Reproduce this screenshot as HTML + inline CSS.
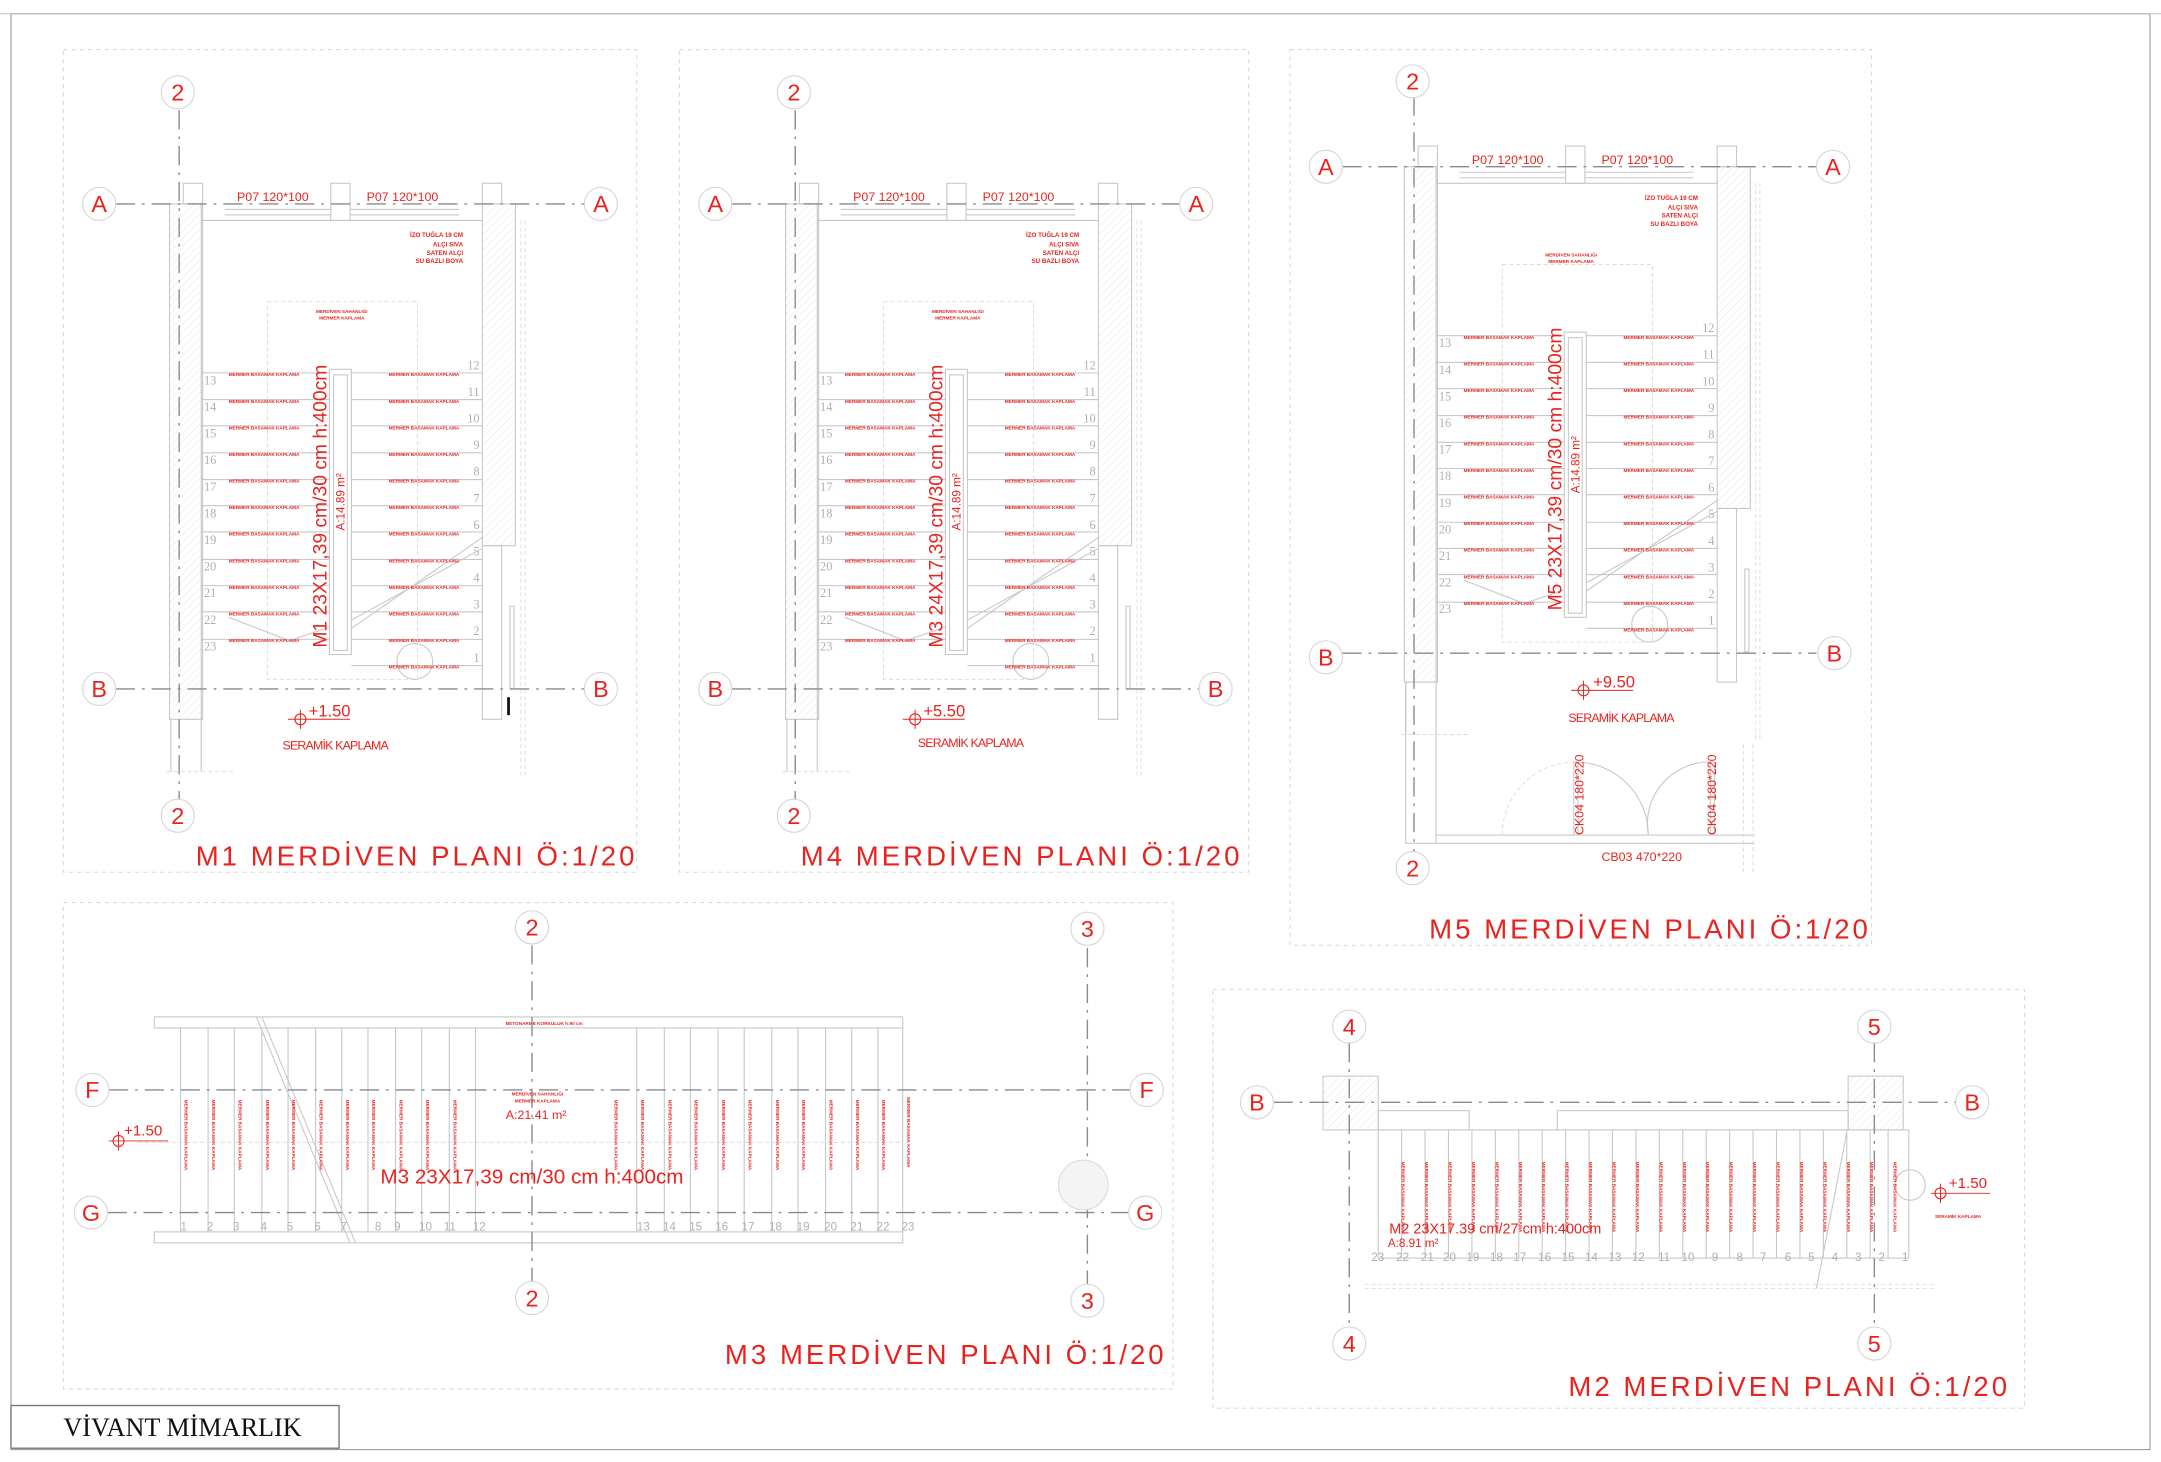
<!DOCTYPE html>
<html><head><meta charset="utf-8"><style>
html,body{margin:0;padding:0;background:#fff;}
svg{display:block;}
text{font-family:"Liberation Sans",sans-serif;}
.r{fill:#e8231f;}
.ax{stroke:#8a8a8a;stroke-width:1;stroke-dasharray:14 5 2 5;fill:none;}
.w{stroke:#c8c8c8;stroke-width:0.8;fill:none;}
.wd{stroke:#d8d8d8;stroke-width:0.6;fill:none;stroke-dasharray:3 2;}
.pan{stroke:#d4dcdc;stroke-width:0.8;fill:none;stroke-dasharray:3 3;}
.num{fill:#b0b0b0;font-family:"Liberation Serif",serif;font-size:9px;}
.c{fill:#fff;stroke:#d6d6d6;stroke-width:0.8;}
.cl{fill:#e8231f;font-size:17px;text-anchor:middle;}
.t{fill:#e8231f;font-size:20px;letter-spacing:2.2px;}
.tiny{fill:#e8231f;font-size:3.4px;font-weight:bold;}
</style></head><body>
<svg width="2161" height="1462" viewBox="0 0 1568 1061" preserveAspectRatio="none" xmlns="http://www.w3.org/2000/svg">
<defs>
<pattern id="h" width="4" height="4" patternUnits="userSpaceOnUse" patternTransform="rotate(45)"><line x1="0" y1="0" x2="0" y2="4" stroke="#e2e2e2" stroke-width="0.6"/></pattern>
<g id="st">
 <rect x="123" y="148" width="24" height="374" fill="url(#h)" stroke="#c8c8c8" stroke-width="0.8"/>
 <line x1="146" y1="148" x2="146" y2="560" class="w"/><line x1="124" y1="522" x2="124" y2="560" class="w"/>
 <rect x="133" y="133" width="14" height="15" class="w"/>
 <rect x="240" y="133" width="14" height="27" class="w"/>
 <rect x="350" y="133" width="14" height="15" class="w"/>
 <line x1="146" y1="160" x2="350" y2="160" class="w"/>
 <line x1="163" y1="152" x2="240" y2="152" class="w"/><line x1="163" y1="156" x2="240" y2="156" class="w"/>
 <line x1="254" y1="152" x2="333" y2="152" class="w"/><line x1="254" y1="156" x2="333" y2="156" class="w"/>
 <rect x="350" y="148" width="24" height="248" fill="url(#h)" stroke="#c8c8c8" stroke-width="0.8"/>
 <rect x="350" y="396" width="14" height="126" class="w"/>
 <line x1="378" y1="160" x2="378" y2="565" class="wd"/><line x1="381" y1="160" x2="381" y2="565" class="wd"/>
 <rect x="370" y="440" width="3" height="60" class="w"/>
 <line x1="121" y1="560" x2="170" y2="560" class="wd"/>
 <rect x="194" y="219" width="109" height="274" class="wd"/>
 <rect x="239" y="268" width="16" height="207" class="w"/>
 <rect x="242" y="272" width="10" height="200" class="w"/>
 <g class="w">
 <path d="M146 270.6H239M146 290H239M146 309H239M146 328.6H239M146 348H239M146 367H239M146 386H239M146 406H239M146 425H239M146 444H239M146 464H239"/>
 <path d="M255 270.6H350M255 290H350M255 309H350M255 328.6H350M255 348H350M255 367H350M255 386H350M255 406H350M255 425H350M255 444H350M255 464H350M255 483H350"/>
 <path d="M166 448L210 465L239 455M255 456L350 390M255 450L350 398"/>
 </g>
 <circle cx="301" cy="480" r="13" class="w"/>
</g>
<g id="circ"><circle r="12" class="c"/></g>
</defs>

<rect x="8" y="10" width="1552" height="1042" fill="none" stroke="#9a9a9a" stroke-width="0.8"/>
<line x1="0" y1="10" x2="1568" y2="10" stroke="#bbb" stroke-width="0.6"/>
<rect x="8" y="1020" width="238" height="31" fill="#fff" stroke="#777" stroke-width="1"/>
<text x="46" y="1042" style="font-family:'Liberation Serif',serif;font-size:19px;fill:#111">VİVANT MİMARLIK</text>

<rect x="46" y="36" width="416" height="597" class="pan"/>
<rect x="493" y="36" width="413" height="597" class="pan"/>
<rect x="936" y="36" width="422" height="650" class="pan"/>
<rect x="46" y="655" width="805" height="353" class="pan"/>
<rect x="880" y="718" width="589" height="304" class="pan"/>

<!-- ===== M1 ===== -->
<use href="#st"/>
<line x1="130" y1="80" x2="130" y2="580" class="ax"/>
<line x1="84" y1="148" x2="424" y2="148" class="ax"/>
<line x1="84" y1="500" x2="424" y2="500" class="ax"/>
<use href="#circ" x="129" y="67"/><text x="129" y="73" class="cl">2</text>
<use href="#circ" x="129" y="592"/><text x="129" y="598" class="cl">2</text>
<use href="#circ" x="72" y="148"/><text x="72" y="154" class="cl">A</text>
<use href="#circ" x="436" y="148"/><text x="436" y="154" class="cl">A</text>
<use href="#circ" x="72" y="500"/><text x="72" y="506" class="cl">B</text>
<use href="#circ" x="436" y="500"/><text x="436" y="506" class="cl">B</text>
<rect x="368" y="506" width="2" height="13" fill="#111"/>
<text x="172" y="146" class="r" style="font-size:9px">P07 120*100</text>
<text x="266" y="146" class="r" style="font-size:9px">P07 120*100</text>
<g class="r" style="font-size:4.5px;text-anchor:end;font-weight:bold"><text x="336" y="172">İZO TUĞLA 19 CM</text><text x="336" y="179">ALÇI SIVA</text><text x="336" y="185">SATEN ALÇI</text><text x="336" y="191">SU BAZLI BOYA</text></g>
<g class="tiny" style="text-anchor:middle"><text x="248" y="227">MERDİVEN SAHANLIĞI</text><text x="248" y="232">MERMER KAPLAMA</text></g>
<text class="tiny" x="166" y="273"><tspan x="166" dy="0">MERMER BASAMAK KAPLAMA</tspan><tspan x="166" dy="19.3">MERMER BASAMAK KAPLAMA</tspan><tspan x="166" dy="19.3">MERMER BASAMAK KAPLAMA</tspan><tspan x="166" dy="19.3">MERMER BASAMAK KAPLAMA</tspan><tspan x="166" dy="19.3">MERMER BASAMAK KAPLAMA</tspan><tspan x="166" dy="19.3">MERMER BASAMAK KAPLAMA</tspan><tspan x="166" dy="19.3">MERMER BASAMAK KAPLAMA</tspan><tspan x="166" dy="19.3">MERMER BASAMAK KAPLAMA</tspan><tspan x="166" dy="19.3">MERMER BASAMAK KAPLAMA</tspan><tspan x="166" dy="19.3">MERMER BASAMAK KAPLAMA</tspan><tspan x="166" dy="19.3">MERMER BASAMAK KAPLAMA</tspan></text>
<text class="tiny" x="282" y="273"><tspan x="282" dy="0">MERMER BASAMAK KAPLAMA</tspan><tspan x="282" dy="19.3">MERMER BASAMAK KAPLAMA</tspan><tspan x="282" dy="19.3">MERMER BASAMAK KAPLAMA</tspan><tspan x="282" dy="19.3">MERMER BASAMAK KAPLAMA</tspan><tspan x="282" dy="19.3">MERMER BASAMAK KAPLAMA</tspan><tspan x="282" dy="19.3">MERMER BASAMAK KAPLAMA</tspan><tspan x="282" dy="19.3">MERMER BASAMAK KAPLAMA</tspan><tspan x="282" dy="19.3">MERMER BASAMAK KAPLAMA</tspan><tspan x="282" dy="19.3">MERMER BASAMAK KAPLAMA</tspan><tspan x="282" dy="19.3">MERMER BASAMAK KAPLAMA</tspan><tspan x="282" dy="19.3">MERMER BASAMAK KAPLAMA</tspan><tspan x="282" dy="19.3">MERMER BASAMAK KAPLAMA</tspan></text>
<text class="num" x="148" y="279"><tspan x="148" dy="0">13</tspan><tspan x="148" dy="19.3">14</tspan><tspan x="148" dy="19.3">15</tspan><tspan x="148" dy="19.3">16</tspan><tspan x="148" dy="19.3">17</tspan><tspan x="148" dy="19.3">18</tspan><tspan x="148" dy="19.3">19</tspan><tspan x="148" dy="19.3">20</tspan><tspan x="148" dy="19.3">21</tspan><tspan x="148" dy="19.3">22</tspan><tspan x="148" dy="19.3">23</tspan></text>
<text class="num" x="348" y="268" style="text-anchor:end"><tspan x="348" dy="0">12</tspan><tspan x="348" dy="19.3">11</tspan><tspan x="348" dy="19.3">10</tspan><tspan x="348" dy="19.3">9</tspan><tspan x="348" dy="19.3">8</tspan><tspan x="348" dy="19.3">7</tspan><tspan x="348" dy="19.3">6</tspan><tspan x="348" dy="19.3">5</tspan><tspan x="348" dy="19.3">4</tspan><tspan x="348" dy="19.3">3</tspan><tspan x="348" dy="19.3">2</tspan><tspan x="348" dy="19.3">1</tspan></text>
<text transform="translate(237,470) rotate(-90)" class="r" style="font-size:14px">M1 23X17,39 cm/30 cm h:400cm</text>
<text transform="translate(250,385) rotate(-90)" class="r" style="font-size:8.5px">A:14.89 m²</text>
<g transform="translate(218,522)"><circle r="4" fill="none" stroke="#e8231f" stroke-width="0.8"/><line x1="-9" y1="0" x2="36" y2="0" stroke="#e8231f" stroke-width="0.7"/><line x1="0" y1="-7" x2="0" y2="7" stroke="#e8231f" stroke-width="0.7"/></g>
<text x="224" y="520" class="r" style="font-size:12px">+1.50</text>
<text x="205" y="544" class="r" style="font-size:9px;letter-spacing:-0.6px">SERAMİK KAPLAMA</text>
<text x="142" y="628" class="t">M1 MERDİVEN PLANI Ö:1/20</text>

<!-- ===== M4 ===== -->
<use href="#st" x="447"/>
<line x1="577" y1="80" x2="577" y2="580" class="ax"/>
<line x1="531" y1="148" x2="856" y2="148" class="ax"/>
<line x1="531" y1="500" x2="870" y2="500" class="ax"/>
<use href="#circ" x="576" y="67"/><text x="576" y="73" class="cl">2</text>
<use href="#circ" x="576" y="592"/><text x="576" y="598" class="cl">2</text>
<use href="#circ" x="519" y="148"/><text x="519" y="154" class="cl">A</text>
<use href="#circ" x="868" y="148"/><text x="868" y="154" class="cl">A</text>
<use href="#circ" x="519" y="500"/><text x="519" y="506" class="cl">B</text>
<use href="#circ" x="882" y="500"/><text x="882" y="506" class="cl">B</text>
<text x="619" y="146" class="r" style="font-size:9px">P07 120*100</text>
<text x="713" y="146" class="r" style="font-size:9px">P07 120*100</text>
<g class="r" style="font-size:4.5px;text-anchor:end;font-weight:bold"><text x="783" y="172">İZO TUĞLA 19 CM</text><text x="783" y="179">ALÇI SIVA</text><text x="783" y="185">SATEN ALÇI</text><text x="783" y="191">SU BAZLI BOYA</text></g>
<g class="tiny" style="text-anchor:middle"><text x="695" y="227">MERDİVEN SAHANLIĞI</text><text x="695" y="232">MERMER KAPLAMA</text></g>
<text class="tiny" x="613" y="273"><tspan x="613" dy="0">MERMER BASAMAK KAPLAMA</tspan><tspan x="613" dy="19.3">MERMER BASAMAK KAPLAMA</tspan><tspan x="613" dy="19.3">MERMER BASAMAK KAPLAMA</tspan><tspan x="613" dy="19.3">MERMER BASAMAK KAPLAMA</tspan><tspan x="613" dy="19.3">MERMER BASAMAK KAPLAMA</tspan><tspan x="613" dy="19.3">MERMER BASAMAK KAPLAMA</tspan><tspan x="613" dy="19.3">MERMER BASAMAK KAPLAMA</tspan><tspan x="613" dy="19.3">MERMER BASAMAK KAPLAMA</tspan><tspan x="613" dy="19.3">MERMER BASAMAK KAPLAMA</tspan><tspan x="613" dy="19.3">MERMER BASAMAK KAPLAMA</tspan><tspan x="613" dy="19.3">MERMER BASAMAK KAPLAMA</tspan></text>
<text class="tiny" x="729" y="273"><tspan x="729" dy="0">MERMER BASAMAK KAPLAMA</tspan><tspan x="729" dy="19.3">MERMER BASAMAK KAPLAMA</tspan><tspan x="729" dy="19.3">MERMER BASAMAK KAPLAMA</tspan><tspan x="729" dy="19.3">MERMER BASAMAK KAPLAMA</tspan><tspan x="729" dy="19.3">MERMER BASAMAK KAPLAMA</tspan><tspan x="729" dy="19.3">MERMER BASAMAK KAPLAMA</tspan><tspan x="729" dy="19.3">MERMER BASAMAK KAPLAMA</tspan><tspan x="729" dy="19.3">MERMER BASAMAK KAPLAMA</tspan><tspan x="729" dy="19.3">MERMER BASAMAK KAPLAMA</tspan><tspan x="729" dy="19.3">MERMER BASAMAK KAPLAMA</tspan><tspan x="729" dy="19.3">MERMER BASAMAK KAPLAMA</tspan><tspan x="729" dy="19.3">MERMER BASAMAK KAPLAMA</tspan></text>
<text class="num" x="595" y="279"><tspan x="595" dy="0">13</tspan><tspan x="595" dy="19.3">14</tspan><tspan x="595" dy="19.3">15</tspan><tspan x="595" dy="19.3">16</tspan><tspan x="595" dy="19.3">17</tspan><tspan x="595" dy="19.3">18</tspan><tspan x="595" dy="19.3">19</tspan><tspan x="595" dy="19.3">20</tspan><tspan x="595" dy="19.3">21</tspan><tspan x="595" dy="19.3">22</tspan><tspan x="595" dy="19.3">23</tspan></text>
<text class="num" x="795" y="268" style="text-anchor:end"><tspan x="795" dy="0">12</tspan><tspan x="795" dy="19.3">11</tspan><tspan x="795" dy="19.3">10</tspan><tspan x="795" dy="19.3">9</tspan><tspan x="795" dy="19.3">8</tspan><tspan x="795" dy="19.3">7</tspan><tspan x="795" dy="19.3">6</tspan><tspan x="795" dy="19.3">5</tspan><tspan x="795" dy="19.3">4</tspan><tspan x="795" dy="19.3">3</tspan><tspan x="795" dy="19.3">2</tspan><tspan x="795" dy="19.3">1</tspan></text>
<text transform="translate(684,470) rotate(-90)" class="r" style="font-size:14px">M3 24X17,39 cm/30 cm h:400cm</text>
<text transform="translate(697,385) rotate(-90)" class="r" style="font-size:8.5px">A:14.89 m²</text>
<g transform="translate(664,522)"><circle r="4" fill="none" stroke="#e8231f" stroke-width="0.8"/><line x1="-9" y1="0" x2="36" y2="0" stroke="#e8231f" stroke-width="0.7"/><line x1="0" y1="-7" x2="0" y2="7" stroke="#e8231f" stroke-width="0.7"/></g>
<text x="670" y="520" class="r" style="font-size:12px">+5.50</text>
<text x="666" y="542" class="r" style="font-size:9px;letter-spacing:-0.6px">SERAMİK KAPLAMA</text>
<text x="581" y="628" class="t">M4 MERDİVEN PLANI Ö:1/20</text>

<!-- ===== M5 ===== -->
<use href="#st" x="896" y="-27"/>
<rect x="1020" y="495" width="22" height="117" class="w"/>
<line x1="1042" y1="612" x2="1273" y2="612" class="w"/><line x1="1042" y1="606" x2="1273" y2="606" class="w"/>
<line x1="1265" y1="540" x2="1265" y2="635" class="wd"/><line x1="1272" y1="540" x2="1272" y2="635" class="wd"/>
<path d="M1090 606A53 53 0 0 1 1143 553" class="wd"/><path d="M1143 553A53 53 0 0 1 1196 606" class="w"/>
<path d="M1196 606A45 45 0 0 1 1241 553" class="w"/>
<rect x="1142" y="553" width="3" height="53" class="w"/><rect x="1241" y="553" width="3" height="53" class="w"/>
<line x1="1026" y1="70" x2="1026" y2="618" class="ax"/>
<line x1="974" y1="121" x2="1318" y2="121" class="ax"/>
<line x1="974" y1="474" x2="1318" y2="474" class="ax"/>
<use href="#circ" x="1025" y="59"/><text x="1025" y="65" class="cl">2</text>
<use href="#circ" x="1025" y="630"/><text x="1025" y="636" class="cl">2</text>
<use href="#circ" x="962" y="121"/><text x="962" y="127" class="cl">A</text>
<use href="#circ" x="1330" y="121"/><text x="1330" y="127" class="cl">A</text>
<use href="#circ" x="962" y="477"/><text x="962" y="483" class="cl">B</text>
<use href="#circ" x="1331" y="474"/><text x="1331" y="480" class="cl">B</text>
<text x="1068" y="119" class="r" style="font-size:9px">P07 120*100</text>
<text x="1162" y="119" class="r" style="font-size:9px">P07 120*100</text>
<g class="r" style="font-size:4.5px;text-anchor:end;font-weight:bold"><text x="1232" y="145">İZO TUĞLA 19 CM</text><text x="1232" y="152">ALÇI SIVA</text><text x="1232" y="158">SATEN ALÇI</text><text x="1232" y="164">SU BAZLI BOYA</text></g>
<g class="tiny" style="text-anchor:middle"><text x="1140" y="186">MERDİVEN SAHANLIĞI</text><text x="1140" y="191">MERMER KAPLAMA</text></g>
<text class="tiny" x="1062" y="246"><tspan x="1062" dy="0">MERMER BASAMAK KAPLAMA</tspan><tspan x="1062" dy="19.3">MERMER BASAMAK KAPLAMA</tspan><tspan x="1062" dy="19.3">MERMER BASAMAK KAPLAMA</tspan><tspan x="1062" dy="19.3">MERMER BASAMAK KAPLAMA</tspan><tspan x="1062" dy="19.3">MERMER BASAMAK KAPLAMA</tspan><tspan x="1062" dy="19.3">MERMER BASAMAK KAPLAMA</tspan><tspan x="1062" dy="19.3">MERMER BASAMAK KAPLAMA</tspan><tspan x="1062" dy="19.3">MERMER BASAMAK KAPLAMA</tspan><tspan x="1062" dy="19.3">MERMER BASAMAK KAPLAMA</tspan><tspan x="1062" dy="19.3">MERMER BASAMAK KAPLAMA</tspan><tspan x="1062" dy="19.3">MERMER BASAMAK KAPLAMA</tspan></text>
<text class="tiny" x="1178" y="246"><tspan x="1178" dy="0">MERMER BASAMAK KAPLAMA</tspan><tspan x="1178" dy="19.3">MERMER BASAMAK KAPLAMA</tspan><tspan x="1178" dy="19.3">MERMER BASAMAK KAPLAMA</tspan><tspan x="1178" dy="19.3">MERMER BASAMAK KAPLAMA</tspan><tspan x="1178" dy="19.3">MERMER BASAMAK KAPLAMA</tspan><tspan x="1178" dy="19.3">MERMER BASAMAK KAPLAMA</tspan><tspan x="1178" dy="19.3">MERMER BASAMAK KAPLAMA</tspan><tspan x="1178" dy="19.3">MERMER BASAMAK KAPLAMA</tspan><tspan x="1178" dy="19.3">MERMER BASAMAK KAPLAMA</tspan><tspan x="1178" dy="19.3">MERMER BASAMAK KAPLAMA</tspan><tspan x="1178" dy="19.3">MERMER BASAMAK KAPLAMA</tspan><tspan x="1178" dy="19.3">MERMER BASAMAK KAPLAMA</tspan></text>
<text class="num" x="1044" y="252"><tspan x="1044" dy="0">13</tspan><tspan x="1044" dy="19.3">14</tspan><tspan x="1044" dy="19.3">15</tspan><tspan x="1044" dy="19.3">16</tspan><tspan x="1044" dy="19.3">17</tspan><tspan x="1044" dy="19.3">18</tspan><tspan x="1044" dy="19.3">19</tspan><tspan x="1044" dy="19.3">20</tspan><tspan x="1044" dy="19.3">21</tspan><tspan x="1044" dy="19.3">22</tspan><tspan x="1044" dy="19.3">23</tspan></text>
<text class="num" x="1244" y="241" style="text-anchor:end"><tspan x="1244" dy="0">12</tspan><tspan x="1244" dy="19.3">11</tspan><tspan x="1244" dy="19.3">10</tspan><tspan x="1244" dy="19.3">9</tspan><tspan x="1244" dy="19.3">8</tspan><tspan x="1244" dy="19.3">7</tspan><tspan x="1244" dy="19.3">6</tspan><tspan x="1244" dy="19.3">5</tspan><tspan x="1244" dy="19.3">4</tspan><tspan x="1244" dy="19.3">3</tspan><tspan x="1244" dy="19.3">2</tspan><tspan x="1244" dy="19.3">1</tspan></text>
<text transform="translate(1133,443) rotate(-90)" class="r" style="font-size:14px">M5 23X17,39 cm/30 cm h:400cm</text>
<text transform="translate(1146,358) rotate(-90)" class="r" style="font-size:8.5px">A:14.89 m²</text>
<g transform="translate(1149,501)"><circle r="4" fill="none" stroke="#e8231f" stroke-width="0.8"/><line x1="-9" y1="0" x2="36" y2="0" stroke="#e8231f" stroke-width="0.7"/><line x1="0" y1="-7" x2="0" y2="7" stroke="#e8231f" stroke-width="0.7"/></g>
<text x="1156" y="499" class="r" style="font-size:12px">+9.50</text>
<text x="1138" y="524" class="r" style="font-size:9px;letter-spacing:-0.6px">SERAMİK KAPLAMA</text>
<text transform="translate(1149,606) rotate(-90)" class="r" style="font-size:9px">CK04 180*220</text>
<text transform="translate(1245,606) rotate(-90)" class="r" style="font-size:9px">CK04 180*220</text>
<text x="1162" y="625" class="r" style="font-size:9px">CB03 470*220</text>
<text x="1037" y="681" class="t">M5 MERDİVEN PLANI Ö:1/20</text>

<!-- ===== M3 ===== -->
<rect x="112" y="738" width="543" height="8" class="w"/>
<rect x="112" y="894" width="543" height="8" class="w"/>
<text x="367" y="744" class="tiny">BETONARME KORKULUK h:90 cm</text>
<g class="w"><path d="M131 746V894M151 746V894M170 746V894M190 746V894M209 746V894M229 746V894M248 746V894M267 746V894M287 746V894M306 746V894M326 746V894M345 746V894M462 746V894M482 746V894M501 746V894M521 746V894M540 746V894M560 746V894M579 746V894M599 746V894M618 746V894M637 746V894M655 746V894"/><path d="M186 738L254 902M190 738L258 902"/></g>
<line x1="386" y1="686" x2="386" y2="930" class="ax"/>
<line x1="789" y1="688" x2="789" y2="932" class="ax"/>
<line x1="79" y1="791" x2="820" y2="791" class="ax"/>
<line x1="78" y1="880" x2="819" y2="880" class="ax"/>
<line x1="100" y1="829" x2="655" y2="829" class="wd"/>
<circle cx="786" cy="860" r="18" fill="#f4f4f4" stroke="#ddd" stroke-width="0.8"/>
<use href="#circ" x="386" y="673"/><text x="386" y="679" class="cl">2</text>
<use href="#circ" x="386" y="942"/><text x="386" y="948" class="cl">2</text>
<use href="#circ" x="789" y="674"/><text x="789" y="680" class="cl">3</text>
<use href="#circ" x="789" y="944"/><text x="789" y="950" class="cl">3</text>
<use href="#circ" x="67" y="791"/><text x="67" y="797" class="cl">F</text>
<use href="#circ" x="832" y="791"/><text x="832" y="797" class="cl">F</text>
<use href="#circ" x="66" y="880"/><text x="66" y="886" class="cl">G</text>
<use href="#circ" x="831" y="880"/><text x="831" y="886" class="cl">G</text>
<g class="tiny" style="text-anchor:middle"><text x="390" y="795">MERDİVEN SAHANLIĞI</text><text x="390" y="800">MERMER KAPLAMA</text></g>
<g class="tiny">
<text transform="translate(134,798) rotate(90)">MERMER BASAMAK KAPLAMA</text><text transform="translate(154,798) rotate(90)">MERMER BASAMAK KAPLAMA</text><text transform="translate(173,798) rotate(90)">MERMER BASAMAK KAPLAMA</text><text transform="translate(193,798) rotate(90)">MERMER BASAMAK KAPLAMA</text><text transform="translate(212,798) rotate(90)">MERMER BASAMAK KAPLAMA</text><text transform="translate(232,798) rotate(90)">MERMER BASAMAK KAPLAMA</text><text transform="translate(251,798) rotate(90)">MERMER BASAMAK KAPLAMA</text><text transform="translate(270,798) rotate(90)">MERMER BASAMAK KAPLAMA</text><text transform="translate(290,798) rotate(90)">MERMER BASAMAK KAPLAMA</text><text transform="translate(309,798) rotate(90)">MERMER BASAMAK KAPLAMA</text><text transform="translate(329,798) rotate(90)">MERMER BASAMAK KAPLAMA</text>
<text transform="translate(446,798) rotate(90)">MERMER BASAMAK KAPLAMA</text><text transform="translate(465,798) rotate(90)">MERMER BASAMAK KAPLAMA</text><text transform="translate(485,798) rotate(90)">MERMER BASAMAK KAPLAMA</text><text transform="translate(504,798) rotate(90)">MERMER BASAMAK KAPLAMA</text><text transform="translate(524,798) rotate(90)">MERMER BASAMAK KAPLAMA</text><text transform="translate(543,798) rotate(90)">MERMER BASAMAK KAPLAMA</text><text transform="translate(563,798) rotate(90)">MERMER BASAMAK KAPLAMA</text><text transform="translate(582,798) rotate(90)">MERMER BASAMAK KAPLAMA</text><text transform="translate(602,798) rotate(90)">MERMER BASAMAK KAPLAMA</text><text transform="translate(621,798) rotate(90)">MERMER BASAMAK KAPLAMA</text><text transform="translate(640,798) rotate(90)">MERMER BASAMAK KAPLAMA</text><text transform="translate(658,796) rotate(90)">MERMER BASAMAK KAPLAMA</text>
</g>
<text x="367" y="812" class="r" style="font-size:9px">A:21.41 m²</text>
<text x="276" y="859" class="r" style="font-size:15px">M3 23X17,39 cm/30 cm h:400cm</text>
<g transform="translate(86,828)"><circle r="4" fill="none" stroke="#e8231f" stroke-width="0.8"/><line x1="-7" y1="0" x2="36" y2="0" stroke="#e8231f" stroke-width="0.7"/><line x1="0" y1="-7" x2="0" y2="7" stroke="#e8231f" stroke-width="0.7"/></g>
<text x="90" y="824" class="r" style="font-size:11px">+1.50</text>
<g class="num" style="font-size:8.5px"><text x="131" y="893">1</text><text x="150" y="893">2</text><text x="169" y="893">3</text><text x="189" y="893">4</text><text x="208" y="893">5</text><text x="228" y="893">6</text><text x="247" y="893">7</text><text x="272" y="893">8</text><text x="286" y="893">9</text><text x="304" y="893">10</text><text x="322" y="893">11</text><text x="343" y="893">12</text><text x="462" y="893">13</text><text x="481" y="893">14</text><text x="500" y="893">15</text><text x="519" y="893">16</text><text x="538" y="893">17</text><text x="558" y="893">18</text><text x="578" y="893">19</text><text x="598" y="893">20</text><text x="617" y="893">21</text><text x="636" y="893">22</text><text x="654" y="893">23</text></g>
<text x="526" y="990" class="t">M3 MERDİVEN PLANI Ö:1/20</text>

<!-- ===== M2 ===== -->
<rect x="960" y="781" width="40" height="39" fill="url(#h)" stroke="#c8c8c8" stroke-width="0.8"/>
<rect x="1341" y="781" width="40" height="39" fill="url(#h)" stroke="#c8c8c8" stroke-width="0.8"/>
<rect x="1000" y="806" width="66" height="14" class="w"/>
<rect x="1130" y="806" width="211" height="14" class="w"/>
<rect x="1000" y="820" width="385" height="93" class="w"/>
<g class="w"><path d="M1017 820V913M1034 820V913M1051 820V913M1068 820V913M1085 820V913M1102 820V913M1119 820V913M1136 820V913M1153 820V913M1170 820V913M1187 820V913M1204 820V913M1221 820V913M1238 820V913M1255 820V913M1272 820V913M1289 820V913M1306 820V913M1323 820V913M1340 820V913M1357 820V913M1370 820V913M1340 822L1318 935"/></g>
<line x1="990" y1="935" x2="1404" y2="935" class="wd"/><line x1="990" y1="932" x2="1404" y2="932" class="wd"/>
<circle cx="1386" cy="860" r="11" class="w"/>
<line x1="979" y1="757" x2="979" y2="965" class="ax"/>
<line x1="1360" y1="757" x2="1360" y2="965" class="ax"/>
<line x1="924" y1="800" x2="1419" y2="800" class="ax"/>
<use href="#circ" x="979" y="745"/><text x="979" y="751" class="cl">4</text>
<use href="#circ" x="979" y="975"/><text x="979" y="981" class="cl">4</text>
<use href="#circ" x="1360" y="745"/><text x="1360" y="751" class="cl">5</text>
<use href="#circ" x="1360" y="975"/><text x="1360" y="981" class="cl">5</text>
<use href="#circ" x="912" y="800"/><text x="912" y="806" class="cl">B</text>
<use href="#circ" x="1431" y="800"/><text x="1431" y="806" class="cl">B</text>
<g class="tiny">
<text transform="translate(1017,843) rotate(90)">MERMER BASAMAK KAPLAMA</text><text transform="translate(1034,843) rotate(90)">MERMER BASAMAK KAPLAMA</text><text transform="translate(1051,843) rotate(90)">MERMER BASAMAK KAPLAMA</text><text transform="translate(1068,843) rotate(90)">MERMER BASAMAK KAPLAMA</text><text transform="translate(1085,843) rotate(90)">MERMER BASAMAK KAPLAMA</text><text transform="translate(1102,843) rotate(90)">MERMER BASAMAK KAPLAMA</text><text transform="translate(1119,843) rotate(90)">MERMER BASAMAK KAPLAMA</text><text transform="translate(1136,843) rotate(90)">MERMER BASAMAK KAPLAMA</text><text transform="translate(1153,843) rotate(90)">MERMER BASAMAK KAPLAMA</text><text transform="translate(1170,843) rotate(90)">MERMER BASAMAK KAPLAMA</text><text transform="translate(1187,843) rotate(90)">MERMER BASAMAK KAPLAMA</text><text transform="translate(1204,843) rotate(90)">MERMER BASAMAK KAPLAMA</text><text transform="translate(1221,843) rotate(90)">MERMER BASAMAK KAPLAMA</text><text transform="translate(1238,843) rotate(90)">MERMER BASAMAK KAPLAMA</text><text transform="translate(1255,843) rotate(90)">MERMER BASAMAK KAPLAMA</text><text transform="translate(1272,843) rotate(90)">MERMER BASAMAK KAPLAMA</text><text transform="translate(1289,843) rotate(90)">MERMER BASAMAK KAPLAMA</text><text transform="translate(1306,843) rotate(90)">MERMER BASAMAK KAPLAMA</text><text transform="translate(1323,843) rotate(90)">MERMER BASAMAK KAPLAMA</text><text transform="translate(1340,843) rotate(90)">MERMER BASAMAK KAPLAMA</text><text transform="translate(1357,843) rotate(90)">MERMER BASAMAK KAPLAMA</text><text transform="translate(1374,843) rotate(90)">MERMER BASAMAK KAPLAMA</text>
</g>
<text x="1008" y="895" class="r" style="font-size:10.5px">M2 23X17.39 cm/27 cm h:400cm</text>
<text x="1007" y="905" class="r" style="font-size:8.5px">A:8.91 m²</text>
<g class="num" style="font-size:8.5px"><text x="995" y="915">23</text><text x="1013" y="915">22</text><text x="1031" y="915">21</text><text x="1047" y="915">20</text><text x="1064" y="915">19</text><text x="1081" y="915">18</text><text x="1098" y="915">17</text><text x="1116" y="915">16</text><text x="1133" y="915">15</text><text x="1150" y="915">14</text><text x="1167" y="915">13</text><text x="1184" y="915">12</text><text x="1203" y="915">11</text><text x="1220" y="915">10</text><text x="1242" y="915">9</text><text x="1260" y="915">8</text><text x="1277" y="915">7</text><text x="1295" y="915">6</text><text x="1312" y="915">5</text><text x="1329" y="915">4</text><text x="1346" y="915">3</text><text x="1363" y="915">2</text><text x="1380" y="915">1</text></g>
<g transform="translate(1408,866)"><circle r="4" fill="none" stroke="#e8231f" stroke-width="0.8"/><line x1="-7" y1="0" x2="36" y2="0" stroke="#e8231f" stroke-width="0.7"/><line x1="0" y1="-7" x2="0" y2="7" stroke="#e8231f" stroke-width="0.7"/></g>
<text x="1414" y="862" class="r" style="font-size:11px">+1.50</text>
<text x="1404" y="884" class="tiny">SERAMİK KAPLAMA</text>
<text x="1138" y="1013" class="t">M2 MERDİVEN PLANI Ö:1/20</text>
</svg>
</body></html>
